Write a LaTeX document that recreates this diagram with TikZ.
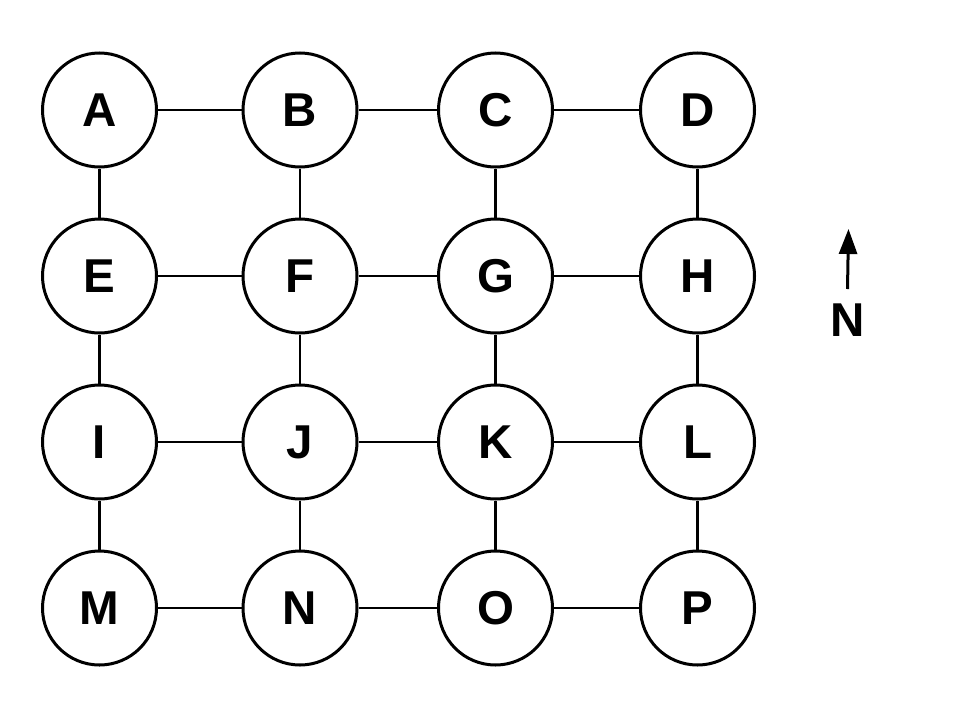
\documentclass[tikz,border=0pt]{standalone}
\usepackage{fontspec}
\setmainfont{Liberation Sans}
\usetikzlibrary{positioning,arrows.meta}

\begin{document}
\begin{tikzpicture}[x=1pt,y=1pt,node distance=49pt and 83pt,
    room/.style={draw,circle,line width=3pt,minimum size=114pt,inner sep=0pt,
                 font=\fontsize{47.5}{50}\selectfont\bfseries}]
    \useasboundingbox (0,0) rectangle (960,-720);
    \node[room]                    (a) at (99.5,-110) {A};
    \node[room,right=83.5pt of a]  (b) {B};
    \node[room,right=78.5pt of b]  (c) {C};
    \node[room,right=85pt of c]    (d) {D};
    \node[room,below=of a]         (e) {E};
    \node[room,below=of b]         (f) {F};
    \node[room,below=of c]         (g) {G};
    \node[room,below=of d]         (h) {H};
    \node[room,below=of e]         (i) {I};
    \node[room,below=of f]         (j) {J};
    \node[room,below=of g]         (k) {K};
    \node[room,below=of h]         (l) {L};
    \node[room,below=of i]         (m) {M};
    \node[room,below=of j]         (n) {N};
    \node[room,below=of k]         (o) {O};
    \node[room,below=of l]         (p) {P};
    %
    \path[line width=2.5pt]
        (a) edge (b)  (b) edge (c)  (c) edge (d)
        (e) edge (f)  (f) edge (g)  (g) edge (h)
        (i) edge (j)  (j) edge (k)  (k) edge (l)
        (m) edge (n)  (n) edge (o)  (o) edge (p)
        (a) edge (e)  (e) edge (i)  (i) edge (m)
        (b) edge (f)  (f) edge (j)  (j) edge (n)
        (c) edge (g)  (g) edge (k)  (k) edge (o)
        (d) edge (h)  (h) edge (l)  (l) edge (p)
    ; %-path-%
    %
    \node[font=\fontsize{47.5}{50}\selectfont\bfseries] (north) at (848,-320) {N};
    \coordinate (ntail) at (847.5,-289);
    \coordinate (ntip)  at (848.5,-229);
    \draw[line width=3pt,-{Triangle[length=25pt,width=18pt]}] (ntail) -- (ntip);
\end{tikzpicture}
\end{document}
